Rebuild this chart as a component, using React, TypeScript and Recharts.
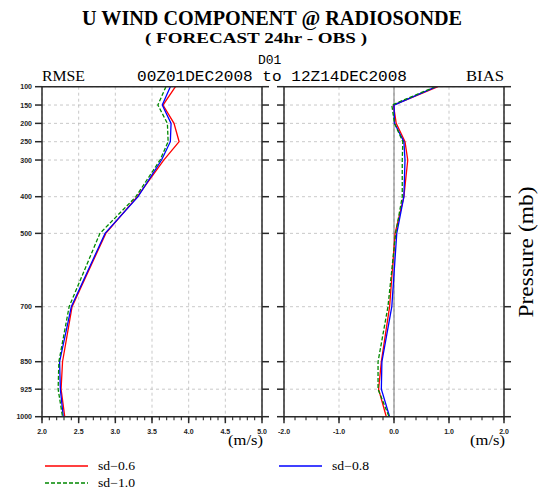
import React from "react";
import { LineChart, Line, XAxis, YAxis, CartesianGrid, ReferenceLine } from "recharts";

// pressure levels (mb)
const levels = [100, 150, 200, 250, 300, 400, 500, 700, 850, 925, 1000];

// RMSE (m/s) per experiment
const rmseSd06 = [3.82, 3.65, 3.8, 3.87, 3.66, 3.3, 2.87, 2.41, 2.28, 2.26, 2.31];
const rmseSd08 = [3.75, 3.64, 3.76, 3.75, 3.63, 3.31, 2.86, 2.4, 2.24, 2.25, 2.29];
const rmseSd10 = [3.69, 3.58, 3.71, 3.72, 3.61, 3.28, 2.79, 2.37, 2.23, 2.22, 2.28];

// BIAS (m/s) per experiment
const biasSd06 = [0.8, -0.01, 0.04, 0.2, 0.25, 0.18, 0.02, -0.08, -0.23, -0.28, -0.14];
const biasSd08 = [0.77, 0.0, 0.01, 0.18, 0.2, 0.18, 0.05, -0.04, -0.22, -0.23, -0.08];
const biasSd10 = [0.75, -0.04, 0.01, 0.16, 0.15, 0.15, 0.03, -0.11, -0.29, -0.29, -0.09];

const rmseTicks = [2, 2.5, 3, 3.5, 4, 4.5, 5];
const rmseMinor = Array.from({ length: 31 }, (_, i) => Math.round((2 + i * 0.1) * 10) / 10);
const biasTicks = [-2, -1, 0, 1, 2];
const biasMinor = Array.from({ length: 21 }, (_, i) => Math.round((-2 + i * 0.2) * 10) / 10);

const rmseData = levels.map((p, i) => ({ p, sd06: rmseSd06[i], sd08: rmseSd08[i], sd10: rmseSd10[i] }));
const biasData = levels.map((p, i) => ({ p, sd06: biasSd06[i], sd08: biasSd08[i], sd10: biasSd10[i] }));

// frame geometry shared by both panels
const PLOT_W = 220;
const PLOT_TOP = 86.7;
const PLOT_BOTTOM = 416.7;
const FRAME = "#2a2a2a";
const serif = "Liberation Serif, Times New Roman, serif";
const mono = "Liberation Mono, Courier New, monospace";
const labelStyle = { fontFamily: "Liberation Sans, Arial, sans-serif", fontSize: 7, fontWeight: 700, fill: "#222" };

const LeftLabel = (props: any) =>
  props.showLabel ? (
    <text x={Number(props.x)} y={Number(props.y) + 2.5} textAnchor="end" {...labelStyle}>
      {props.payload.value}
    </text>
  ) : (
    <g />
  );
const BottomLabel = (props: any) => (
  <text x={Number(props.x)} y={Number(props.y) + 6} textAnchor="middle" {...labelStyle}>
    {Number(props.payload.value).toFixed(1)}
  </text>
);

// outward tick marks around one panel frame
function FrameTicks({ x0, domain, ticks, minor }: any) {
  const yOf = (p: number) => PLOT_TOP + ((p - 100) / 900) * (PLOT_BOTTOM - PLOT_TOP);
  const xOf = (v: number) => x0 + ((v - domain[0]) / (domain[1] - domain[0])) * PLOT_W;
  const x1 = x0 + PLOT_W;
  return (
    <g stroke={FRAME}>
      {levels.map((p) => (
        <g key={"l" + p} strokeWidth={1.5}>
          <line x1={x0 - 7} x2={x0} y1={yOf(p)} y2={yOf(p)} />
          <line x1={x1} x2={x1 + 7} y1={yOf(p)} y2={yOf(p)} />
        </g>
      ))}
      {minor.map((t: number) => (
        <line key={"m" + t} x1={xOf(t)} x2={xOf(t)} y1={PLOT_BOTTOM} y2={PLOT_BOTTOM + 3.5} strokeWidth={1.1} />
      ))}
      {ticks.map((t: number) => (
        <line key={"t" + t} x1={xOf(t)} x2={xOf(t)} y1={PLOT_BOTTOM} y2={PLOT_BOTTOM + 6.5} strokeWidth={1.5} />
      ))}
    </g>
  );
}

// axes take 1px each, so margins are 1px short of the frame position
function Panel({ data, domain, ticks, showLabels, zeroLine }: any) {
  return (
    <LineChart
      width={showLabels ? 270 : 240}
      height={460}
      layout="vertical"
      data={data}
      margin={{ top: 85.7, bottom: 42.3, left: showLabels ? 41 : 7, right: showLabels ? 7 : 11 }}
    >
      <CartesianGrid stroke="#bbb" strokeDasharray="3 3" strokeWidth={0.8} />
      <XAxis
        type="number"
        domain={domain}
        ticks={ticks}
        allowDataOverflow
        height={1}
        tickSize={6.5}
        tickMargin={5}
        tick={<BottomLabel />}
        tickLine={false}
        axisLine={{ stroke: FRAME, strokeWidth: 1.5 }}
        interval={0}
      />
      <XAxis
        xAxisId="top"
        orientation="top"
        type="number"
        domain={domain}
        height={1}
        tick={false}
        tickLine={false}
        axisLine={{ stroke: FRAME, strokeWidth: 1.5 }}
      />
      <YAxis
        type="number"
        dataKey="p"
        domain={[100, 1000]}
        ticks={levels}
        interval={0}
        width={1}
        tickSize={7}
        tickMargin={3}
        tick={<LeftLabel showLabel={showLabels} />}
        tickLine={false}
        axisLine={{ stroke: FRAME, strokeWidth: 1.5 }}
      />
      <YAxis
        yAxisId="right"
        orientation="right"
        type="number"
        dataKey="p"
        domain={[100, 1000]}
        width={1}
        tick={false}
        tickLine={false}
        axisLine={{ stroke: FRAME, strokeWidth: 1.5 }}
      />
      {zeroLine && <ReferenceLine x={0} stroke="#777" strokeWidth={1} />}
      <Line dataKey="sd06" stroke="#ff0000" strokeWidth={1.3} dot={false} isAnimationActive={false} />
      <Line dataKey="sd08" stroke="#0000ff" strokeWidth={1.3} dot={false} isAnimationActive={false} />
      <Line dataKey="sd10" stroke="#008800" strokeWidth={1.3} strokeDasharray="4 2" dot={false} isAnimationActive={false} />
    </LineChart>
  );
}

export default function App() {
  return (
    <div style={{ position: "absolute", left: 0, top: 0, width: 541, height: 492, background: "#fff", overflow: "hidden" }}>
      <div style={{ position: "absolute", left: 0, top: 0 }}>
        <Panel data={rmseData} domain={[2, 5]} ticks={rmseTicks} showLabels />
      </div>
      <div style={{ position: "absolute", left: 276, top: 0 }}>
        <Panel data={biasData} domain={[-2, 2]} ticks={biasTicks} zeroLine />
      </div>
      <svg width={541} height={492} style={{ position: "absolute", left: 0, top: 0, pointerEvents: "none" }}>
        <FrameTicks x0={42} domain={[2, 5]} ticks={rmseTicks} minor={rmseMinor} />
        <FrameTicks x0={284} domain={[-2, 2]} ticks={biasTicks} minor={biasMinor} />
        <text x={272} y={25} textAnchor="middle" fontFamily={serif} fontWeight={700} fontSize={21} textLength={380} lengthAdjust="spacingAndGlyphs">
          U WIND COMPONENT @ RADIOSONDE
        </text>
        <text x={256} y={43} textAnchor="middle" fontFamily={serif} fontWeight={700} fontSize={15} textLength={222} lengthAdjust="spacingAndGlyphs">
          ( FORECAST 24hr - OBS )
        </text>
        <text x={258} y={64} fontFamily={mono} fontSize={13}>D01</text>
        <text x={42} y={80.7} fontFamily={serif} fontSize={15} textLength={43} lengthAdjust="spacingAndGlyphs">RMSE</text>
        <text x={137} y={81} fontFamily={mono} fontSize={14.5} textLength={270} lengthAdjust="spacingAndGlyphs">
          00Z01DEC2008 to 12Z14DEC2008
        </text>
        <text x={504} y={80.7} textAnchor="end" fontFamily={serif} fontSize={15} textLength={38} lengthAdjust="spacingAndGlyphs">BIAS</text>
        <text x={263} y={445} textAnchor="end" fontFamily={serif} fontSize={14} textLength={35} lengthAdjust="spacingAndGlyphs">(m/s)</text>
        <text x={505} y={445} textAnchor="end" fontFamily={serif} fontSize={14} textLength={35} lengthAdjust="spacingAndGlyphs">(m/s)</text>
        <text transform="translate(533,252) rotate(-90)" textAnchor="middle" fontFamily={serif} fontSize={20} textLength={131} lengthAdjust="spacingAndGlyphs">
          Pressure (mb)
        </text>
        <line x1={45} x2={88} y1={466} y2={466} stroke="#ff0000" strokeWidth={1.3} />
        <text x={98} y={470} fontFamily={serif} fontSize={12} textLength={37} lengthAdjust="spacingAndGlyphs">sd−0.6</text>
        <line x1={279} x2={322} y1={466} y2={466} stroke="#0000ff" strokeWidth={1.3} />
        <text x={332} y={470} fontFamily={serif} fontSize={12} textLength={37} lengthAdjust="spacingAndGlyphs">sd−0.8</text>
        <line x1={45} x2={88} y1={483} y2={483} stroke="#008800" strokeWidth={1.3} strokeDasharray="4 2" />
        <text x={98} y={487} fontFamily={serif} fontSize={12} textLength={37} lengthAdjust="spacingAndGlyphs">sd−1.0</text>
      </svg>
    </div>
  );
}
